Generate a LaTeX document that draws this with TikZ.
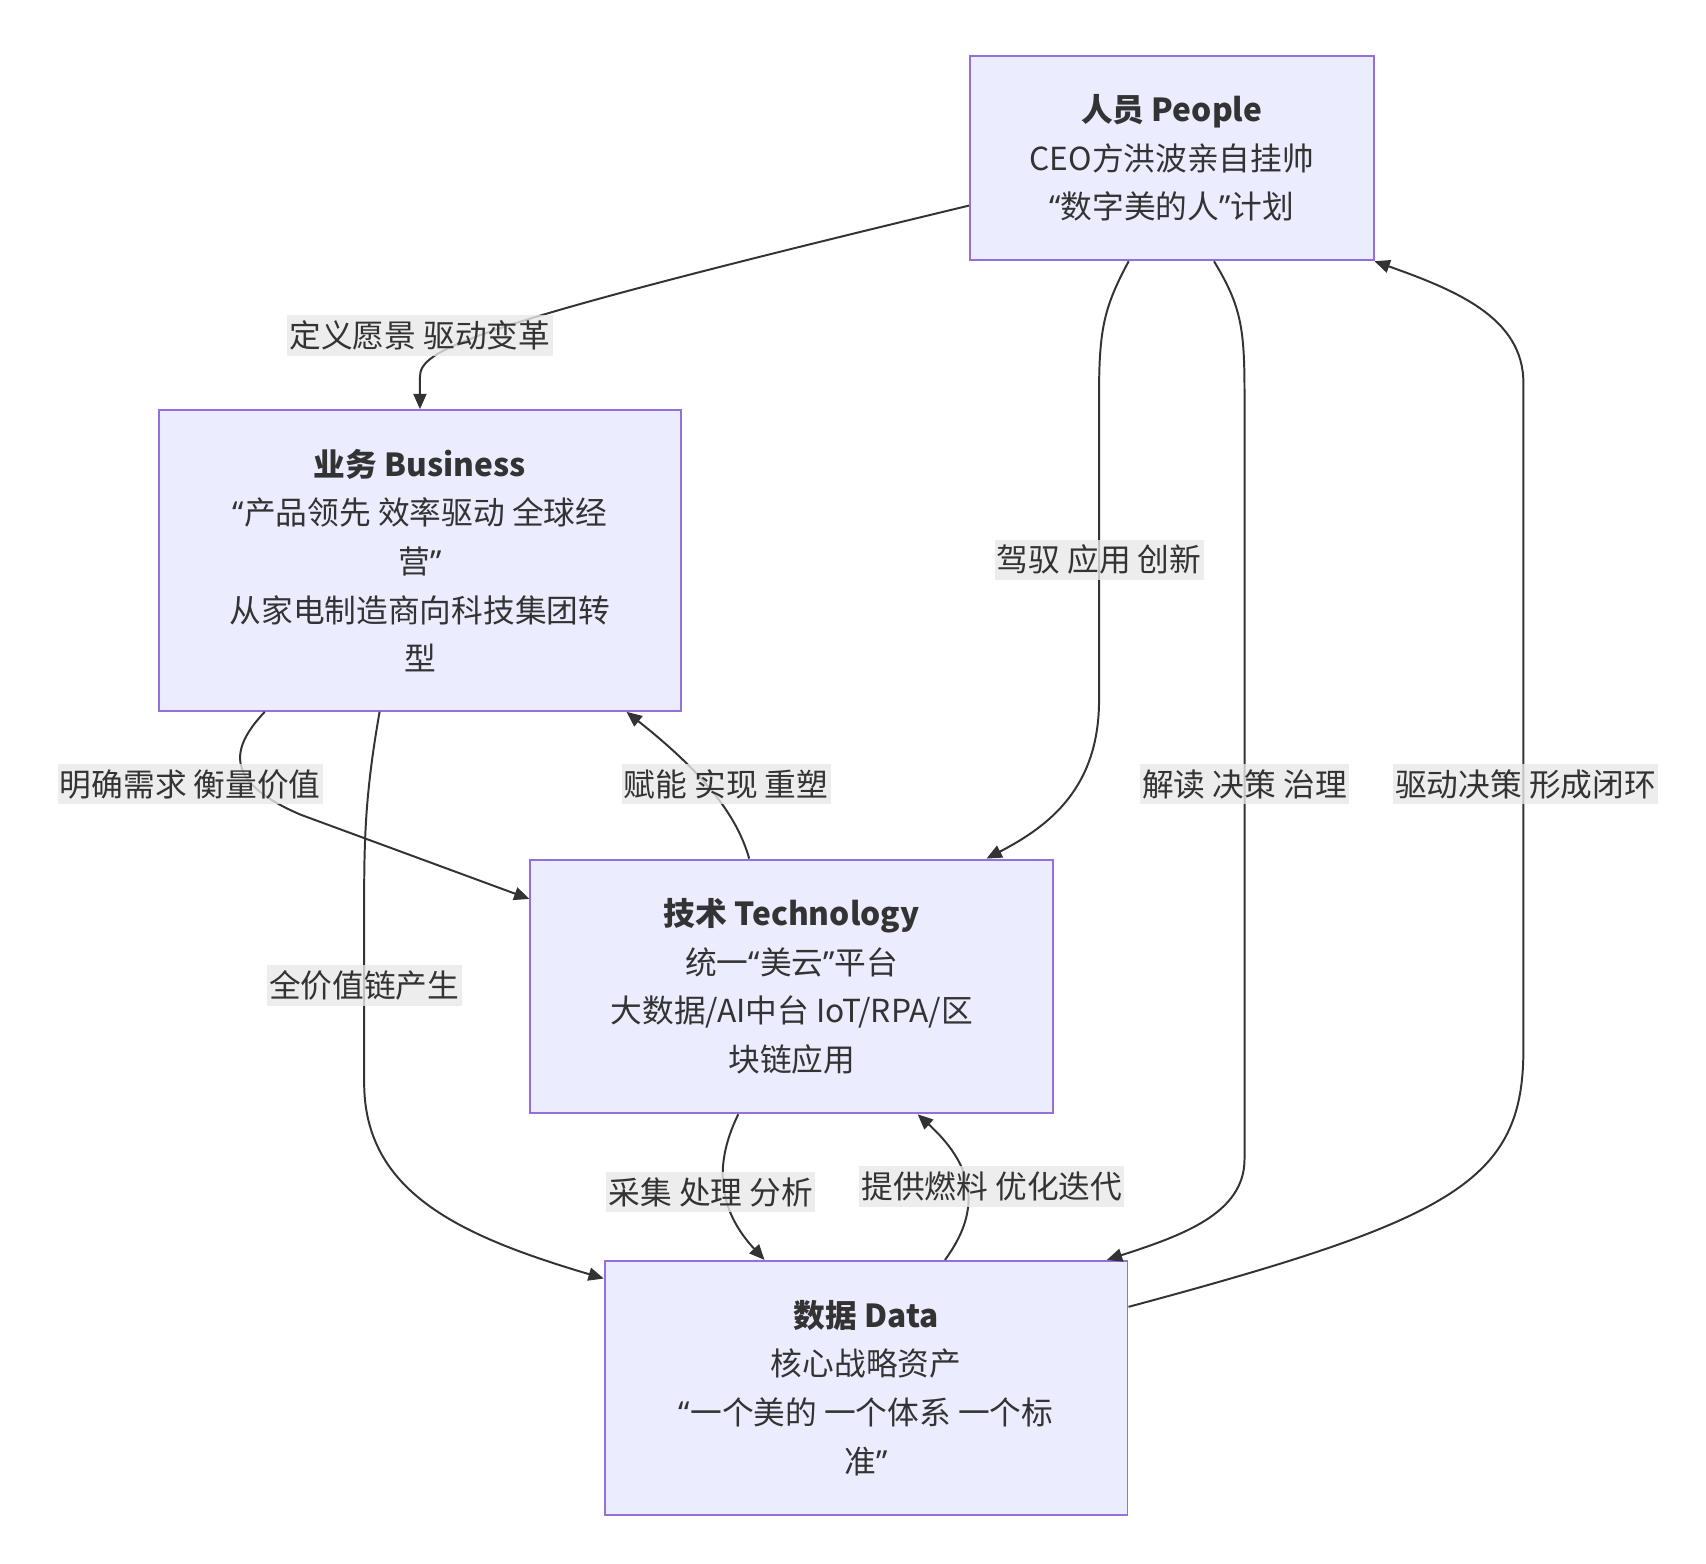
\documentclass[tikz,border=0pt]{standalone}
\usepackage{fontspec}
\setmainfont{Noto Sans CJK SC}
\newfontfamily\qfont{Noto Sans}
\newcommand\oq{{\qfont “}}
\newcommand\cq{{\qfont ”}}
\usetikzlibrary{arrows.meta,calc}
\definecolor{boxfill}{HTML}{ECECFF}
\definecolor{boxline}{HTML}{9370DB}
\definecolor{ink}{HTML}{333333}
\definecolor{lblbg}{HTML}{E8E8E8}
\tikzset{
  box/.style={draw=boxline, fill=boxfill, line width=1.8pt, rectangle, align=center,
    text=ink, inner sep=0pt, font=\fontsize{29}{44.5}\selectfont},
  lbl/.style={fill=lblbg, fill opacity=0.8, text opacity=1, text=ink, inner xsep=2pt,
    inner ysep=5pt, font=\fontsize{29}{35}\selectfont},
  conn/.style={draw=ink, line width=1.8pt, -{Triangle[length=14pt,width=12pt]}}
}
\begin{document}
\begin{tikzpicture}[x=1pt,y=-1pt]
\useasboundingbox (0,0) rectangle (1560,1430);
% boxes
\node[box, minimum width=369pt, minimum height=187pt] (people) at (1071.5,144.5)
  {\textbf{人员 People}\\CEO方洪波亲自挂帅\\\oq 数字美的人\cq 计划};
\node[box, minimum width=478pt, minimum height=275pt] (business) at (384,512.5)
  {\textbf{业务 Business}\\\oq 产品领先 效率驱动 全球经\\营\cq\\从家电制造商向科技集团转\\型};
\node[box, minimum width=478pt, minimum height=232pt] (tech) at (724,902)
  {\textbf{技术 Technology}\\统一\oq 美云\cq 平台\\大数据/AI中台 IoT/RPA/区\\块链应用};
\node[box, minimum width=478pt, minimum height=232pt] (data) at (792,1269)
  {\textbf{数据 Data}\\核心战略资产\\\oq 一个美的 一个体系 一个标\\准\cq};
% connector end points
\coordinate (s1) at ($(people.west)+(0,43.5)$);
\coordinate (s2) at ($(people.south west)+(146,0)$);
\coordinate (e2) at ($(tech.north west)+(418,0)$);
\coordinate (s3) at ($(people.south west)+(224,0)$);
\coordinate (e3) at ($(data.north west)+(460,0)$);
\coordinate (s4) at ($(data.east)+(0,-74)$);
\coordinate (s5) at ($(business.south west)+(98,0)$);
\coordinate (e5) at ($(tech.west)+(0,-80)$);
\coordinate (s6) at ($(tech.north west)+(201,0)$);
\coordinate (e6) at ($(business.south east)+(-51,0)$);
\coordinate (s7) at ($(business.south west)+(203,0)$);
\coordinate (e7) at ($(data.north west)+(0,17)$);
\coordinate (s8) at ($(tech.south west)+(191,0)$);
\coordinate (e8) at ($(data.north west)+(147,0)$);
\coordinate (s9) at ($(data.north west)+(312,0)$);
\coordinate (e9) at ($(tech.south west)+(355,0)$);
% connectors
\draw[conn] (s1) .. controls (420,300) and (384,320) .. (384,345) -- (business.north);
\draw[conn] (s2) .. controls (1010,280) and (1005,300) .. (1005,360) -- (1005,640) .. controls (1005,720) and (960,755) .. (e2);
\draw[conn] (s3) .. controls (1135,280) and (1138,300) .. (1138,360) -- (1138,1060) .. controls (1138,1110) and (1080,1130) .. (e3);
\draw[conn] (s4) .. controls (1330,1115) and (1393,1080) .. (1393,960) -- (1393,350) .. controls (1393,290) and (1330,265) .. (people.south east);
\draw[conn] (s5) .. controls (210,685) and (205,715) .. (275,745) -- (e5);
\draw[conn] (s6) .. controls (675,750) and (650,712) .. (e6);
\draw[conn] (s7) .. controls (335,720) and (333,760) .. (333,820) -- (333,990) .. controls (333,1090) and (420,1130) .. (e7);
\draw[conn] (s8) .. controls (650,1070) and (660,1110) .. (e8);
\draw[conn] (s9) .. controls (895,1110) and (895,1070) .. (e9);
% labels
\node[lbl] (l1) at (384,307) {定义愿景 驱动变革};
\node[lbl] (l2) at (1005,512) {驾驭 应用 创新};
\node[lbl] (l3) at (174,717) {明确需求 衡量价值};
\node[lbl] (l4) at (664,717) {赋能 实现 重塑};
\node[lbl] (l5) at (1138,717) {解读 决策 治理};
\node[lbl] (l6) at (1395,717) {驱动决策 形成闭环};
\node[lbl] (l7) at (333,901) {全价值链产生};
\node[lbl] (l8) at (650,1090) {采集 处理 分析};
\node[lbl] (l9) at (907,1085) {提供燃料 优化迭代};
\end{tikzpicture}
\end{document}
